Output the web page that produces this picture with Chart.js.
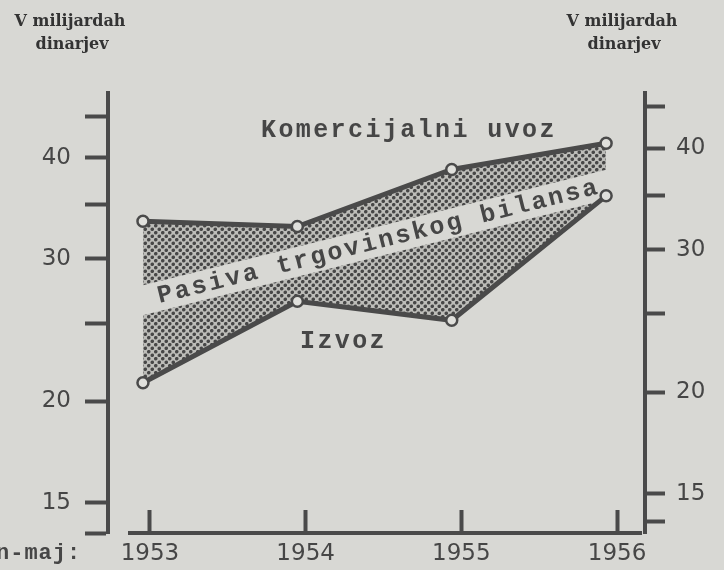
<!DOCTYPE html>
<html><head><meta charset="utf-8">
<script src="https://cdn.jsdelivr.net/npm/chart.js@4/dist/chart.umd.min.js"></script>
<style>html,body{margin:0;padding:0;background:#d8d8d4;overflow:hidden}#wrap{width:724px;height:570px}</style>
</head><body><div id="wrap"><canvas id="c" width="724" height="570"></canvas></div>
<script>
// ---- data ----
const years = [1953, 1954, 1955, 1956];
const uvoz = [33.4, 32.9, 38.7, 41.7];     // Komercijalni uvoz
const izvoz = [21.1, 26.6, 25.2, 35.9];    // Izvoz
const yTicks = [15, 20, 25, 30, 35, 40, 45];
const yLabels = [15, 20, 30, 40];
const xLabels = ['1953', '1954', '1955', '1956'];

// ---- styling ----
const PAPER = '#d8d8d4';
const INK = '#4a4a4a';
const TXT = '#464646';
const numFont = {family: 'DejaVu Sans', size: 23};
const typeFont = 'bold 25px "Liberation Mono", monospace';

// halftone dot pattern
const tile = document.createElement('canvas');
tile.width = 7; tile.height = 7;
const tc = tile.getContext('2d');
tc.fillStyle = '#bdbdb9'; tc.fillRect(0, 0, 7, 7);
tc.fillStyle = '#474747';
[[1.75, 1.75], [5.25, 5.25]].forEach(([x, y]) => { tc.beginPath(); tc.arc(x, y, 1.8, 0, Math.PI * 2); tc.fill(); });
const ctx = document.getElementById('c').getContext('2d');
const dots = ctx.createPattern(tile, 'repeat');

const bgPlugin = {
  id: 'paper',
  beforeDraw(chart) {
    const c = chart.ctx; c.save(); c.fillStyle = PAPER; c.fillRect(0, 0, chart.width, chart.height); c.restore();
  }
};

const bandPlugin = {
  id: 'band',
  beforeDatasetsDraw(chart) {
    const a = chart.getDatasetMeta(0).data, b = chart.getDatasetMeta(1).data;
    const c = chart.ctx; c.save();
    c.beginPath();
    a.forEach((p, i) => i ? c.lineTo(p.x, p.y) : c.moveTo(p.x, p.y));
    for (let i = b.length - 1; i >= 0; i--) c.lineTo(b[i].x, b[i].y);
    c.closePath(); c.clip();
    c.translate(158, 297); c.rotate(-14 * Math.PI / 180);
    c.fillStyle = PAPER; c.fillRect(-60, -15, 600, 29);
    c.restore();
  },
  afterDatasetsDraw(chart) {
    const c = chart.ctx; c.save();
    c.fillStyle = TXT; c.font = typeFont; c.textBaseline = 'middle'; c.textAlign = 'left';
    c.letterSpacing = '2.5px';
    c.translate(158, 297); c.rotate(-14 * Math.PI / 180);
    c.fillText('Pasiva trgovinskog bilansa', 0, 0);
    c.restore();
  },
  afterDraw(chart) {
    const c = chart.ctx; c.save();
    c.fillStyle = TXT; c.font = typeFont; c.textBaseline = 'middle'; c.textAlign = 'left';
    c.letterSpacing = '2.4px';
    c.fillText('Komercijalni uvoz', 261, 131);
    c.fillText('Izvoz', 300, 342);
    c.letterSpacing = '1px';
    c.font = 'bold 22px "Liberation Mono", monospace';
    c.fillText('n-maj:', -4, 553);
    c.letterSpacing = '0px';
    c.fillStyle = '#333333';
    c.font = 'bold 16px "DejaVu Serif", serif'; c.textAlign = 'center';
    c.fillText('V milijardah', 70, 22); c.fillText('dinarjev', 72, 45);
    c.fillText('V milijardah', 622, 22); c.fillText('dinarjev', 624, 45);
    c.restore();
  }
};

const pts = arr => years.map((x, i) => ({x, y: arr[i]}));
const setTicks = vals => s => { s.ticks = vals.map(v => ({value: v})); };
const yLabel = v => yLabels.includes(Math.round(v)) && Math.abs(v - Math.round(v)) < 1e-6 ? String(Math.round(v)) : '';

new Chart(ctx, {
  type: 'line',
  data: {
    datasets: [
      {label: 'Komercijalni uvoz', data: pts(uvoz), xAxisID: 'xd', yAxisID: 'y', fill: '+1', backgroundColor: dots},
      {label: 'Izvoz', data: pts(izvoz), xAxisID: 'xd', yAxisID: 'y', fill: false}
    ].map(d => Object.assign(d, {
      borderColor: INK, borderWidth: 5, tension: 0,
      pointRadius: 5.5, pointBorderWidth: 2.5, pointBackgroundColor: '#e0e0dc', pointBorderColor: INK
    }))
  },
  options: {
    responsive: false, animation: false, devicePixelRatio: 1,
    layout: {padding: {top: 93, left: 0, right: 0, bottom: 0}},
    plugins: {legend: {display: false}, tooltip: {enabled: false}, filler: {drawTime: 'beforeDatasetsDraw'}},
    scales: {
      x: {
        type: 'linear', position: 'bottom', min: 1952.872, max: 1956.154,
        afterBuildTicks: setTicks(years),
        afterFit: s => { s.height = 37; },
        ticks: {callback: (v, i) => xLabels[years.indexOf(v)] || '', font: numFont, color: TXT, padding: 30, maxRotation: 0, autoSkip: false},
        grid: {drawOnChartArea: false, drawTicks: true, tickLength: -23, tickWidth: 4, tickColor: INK},
        border: {color: INK, width: 4}
      },
      xd: {type: 'linear', display: false, min: 1952.916, max: 1956.226},
      y: {
        type: 'logarithmic', position: 'left', weight: 1, min: 13.76, max: 48.1,
        afterBuildTicks: setTicks([13.76].concat(yTicks)),
        afterFit: s => { s.width = 108; },
        ticks: {callback: yLabel, font: numFont, color: TXT, padding: 14, autoSkip: false},
        grid: {drawOnChartArea: false, tickLength: 23, tickWidth: 4, tickColor: INK},
        border: {color: INK, width: 4}
      },
      ysp: {
        type: 'linear', position: 'left', weight: 0, display: true,
        afterFit: s => { s.width = 22; },
        ticks: {display: false}, grid: {display: false}, border: {display: false}
      },
      yrsp: {
        type: 'linear', position: 'right', weight: 0, display: true,
        afterFit: s => { s.width = 4; },
        ticks: {display: false}, grid: {display: false}, border: {display: false}
      },
      yr: {
        type: 'logarithmic', position: 'right', weight: 1, min: 13.42, max: 46.8,
        afterBuildTicks: setTicks([13.85].concat(yTicks)),
        afterFit: s => { s.width = 79; },
        ticks: {callback: yLabel, font: numFont, color: TXT, padding: 11, autoSkip: false},
        grid: {drawOnChartArea: false, tickLength: 20, tickWidth: 4, tickColor: INK},
        border: {color: INK, width: 4}
      }
    }
  },
  plugins: [bgPlugin, bandPlugin]
});
</script>
</body></html>
